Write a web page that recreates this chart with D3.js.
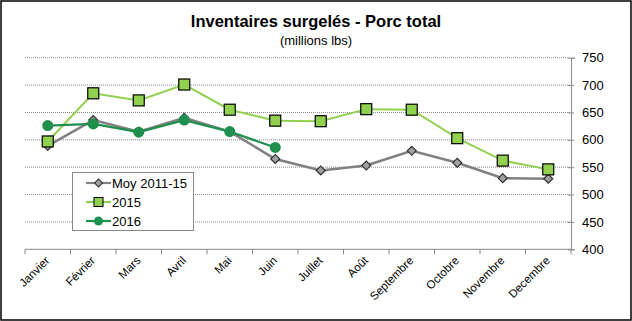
<!DOCTYPE html>
<html><head><meta charset="utf-8">
<script src="https://cdn.jsdelivr.net/npm/d3@7"></script>
<style>body{margin:0;background:#fff;}svg{display:block;font-family:"Liberation Sans",Arial,sans-serif;}</style>
</head><body>
<svg id="c" width="632" height="321"></svg>
<script>
const months = ["Janvier","Février","Mars","Avril","Mai","Juin","Juillet","Août","Septembre","Octobre","Novembre","Decembre"];
const moy = [589,636,615,640,615,565,544,553,580,558,530,529];
const s2015 = [597,685,672,701,655,635,634,656,655,603,562,546];
const s2016 = [626,629,614,636,615,586];
const yTicks = [400,450,500,550,600,650,700,750];
const title = "Inventaires surgelés - Porc total";
const subtitle = "(millions lbs)";

const svg = d3.select("#c");
svg.append("rect").attr("x",1).attr("y",1).attr("width",630).attr("height",319)
  .attr("fill","#fff").attr("stroke","#000").attr("stroke-width",1.5);

const L=25, R=571, T=57.7, B=249.3;
const x = d3.scaleBand().domain(months).range([L,R]);
const y = d3.scaleLinear().domain([400,750]).range([B,T]);

svg.append("text").attr("x",316).attr("y",27).attr("text-anchor","middle")
  .attr("font-size",16.5).attr("font-weight","bold").text(title);
svg.append("text").attr("x",316).attr("y",45).attr("text-anchor","middle")
  .attr("font-size",13).text(subtitle);

// gridlines
svg.append("g").selectAll("line").data(yTicks.filter(d=>d>400)).join("line")
  .attr("x1",L).attr("x2",R).attr("y1",d=>y(d)).attr("y2",d=>y(d))
  .attr("stroke","#888").attr("stroke-width",1).attr("stroke-dasharray","1,1");

// right axis
const ya = svg.append("g").attr("transform",`translate(${R},0)`)
  .call(d3.axisRight(y).tickValues(yTicks).tickSize(4).tickPadding(7));
ya.select(".domain").attr("stroke","#888");
ya.selectAll(".tick line").attr("stroke","#888").attr("x1",-3).attr("x2",3);
ya.selectAll("text").attr("font-size",13).attr("font-family","Liberation Sans, Arial, sans-serif").attr("fill","#000");

// bottom axis
const bottom = svg.append("g");
bottom.append("line").attr("x1",L).attr("x2",R).attr("y1",B).attr("y2",B).attr("stroke","#888");
const bounds = months.map(m=>x(m)).concat([R]);
bottom.selectAll("line.t").data(bounds).join("line").attr("class","t")
  .attr("x1",d=>d).attr("x2",d=>d).attr("y1",B).attr("y2",B+5).attr("stroke","#888");
bottom.selectAll("text").data(months).join("text")
  .attr("transform",d=>`translate(${x(d)+x.bandwidth()/2+2.5},${B+12}) rotate(-45)`)
  .attr("text-anchor","end").attr("font-size",11.5).text(d=>d);

const cx = d=>x(d)+x.bandwidth()/2;
const line = d3.line().x((d,i)=>cx(months[i])).y(d=>y(d));

// Moy
svg.append("path").datum(moy).attr("d",line).attr("fill","none").attr("stroke","#808080").attr("stroke-width",2.5);
svg.append("g").selectAll("path").data(moy).join("path")
  .attr("d",d3.symbol(d3.symbolSquare, 40))
  .attr("transform",(d,i)=>`translate(${cx(months[i])},${y(d)}) rotate(45)`)
  .attr("fill","#a0a0a0").attr("stroke","#303030").attr("stroke-width",1.2);

// 2015
svg.append("path").datum(s2015).attr("d",line).attr("fill","none").attr("stroke","#92d050").attr("stroke-width",2);
svg.append("g").selectAll("rect").data(s2015).join("rect")
  .attr("x",(d,i)=>cx(months[i])-5.5).attr("y",d=>y(d)-5.5).attr("width",11).attr("height",11)
  .attr("fill","#92d050").attr("stroke","#000").attr("stroke-width",1.2);

// 2016
svg.append("path").datum(s2016).attr("d",line).attr("fill","none").attr("stroke","#1f8f4e").attr("stroke-width",2.2);
svg.append("g").selectAll("circle").data(s2016).join("circle")
  .attr("cx",(d,i)=>cx(months[i])).attr("cy",d=>y(d)).attr("r",5.5)
  .attr("fill","#1f8f4e");

// legend
const lg = svg.append("g");
lg.append("rect").attr("x",72.5).attr("y",172.5).attr("width",121).attr("height",58)
  .attr("fill","#fff").attr("stroke","#888").attr("stroke-width",1);
const items = [
  {name:"Moy 2011-15", color:"#808080", type:"diamond", ly:183},
  {name:"2015", color:"#92d050", type:"square", ly:202},
  {name:"2016", color:"#1f8f4e", type:"circle", ly:221}
];
items.forEach(it=>{
  lg.append("line").attr("x1",86).attr("x2",111).attr("y1",it.ly).attr("y2",it.ly)
    .attr("stroke",it.color).attr("stroke-width",2.2);
  if(it.type==="diamond"){
    lg.append("rect").attr("x",-2.8).attr("y",-2.8).attr("width",5.6).attr("height",5.6)
      .attr("transform",`translate(98.5,${it.ly}) rotate(45)`)
      .attr("fill","#a0a0a0").attr("stroke","#303030").attr("stroke-width",1);
  } else if(it.type==="square"){
    lg.append("rect").attr("x",94).attr("y",it.ly-4.5).attr("width",9).attr("height",9)
      .attr("fill","#92d050").attr("stroke","#000").attr("stroke-width",1);
  } else {
    lg.append("circle").attr("cx",98.5).attr("cy",it.ly).attr("r",4.5).attr("fill",it.color);
  }
  lg.append("text").attr("x",112).attr("y",it.ly+4.5).attr("font-size",13).text(it.name);
});
</script>
</body></html>
